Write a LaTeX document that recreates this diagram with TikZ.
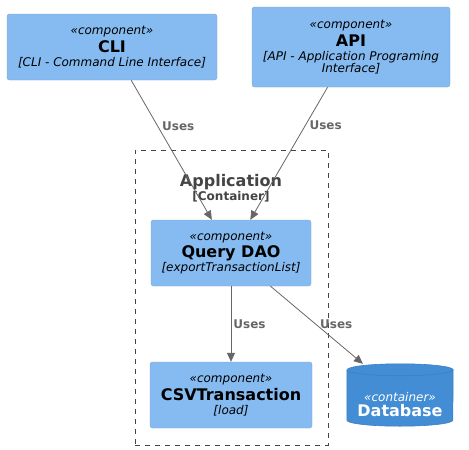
\documentclass[tikz,border=0pt]{standalone}
\usepackage{fontspec}
\setmainfont{DejaVu Sans}
\usetikzlibrary{arrows.meta,calc}
\definecolor{compfill}{HTML}{85BBF0}
\definecolor{compdraw}{HTML}{78A8D8}
\definecolor{dbfill}{HTML}{438DD5}
\definecolor{dbdraw}{HTML}{3C7FC0}
\definecolor{linegray}{HTML}{666666}
\definecolor{boundgray}{HTML}{444444}
\newcommand{\stereo}[1]{{\itshape «#1»}}
\newcommand{\ctitle}[1]{{\fontsize{16}{18}\selectfont\bfseries #1}}
\newcommand{\cdesc}[1]{{\itshape #1}}
\begin{document}
\begin{tikzpicture}[x=1pt, y=1pt,
    every node/.style={font=\fontsize{12}{14}\selectfont, align=center},
    comp/.style={rectangle, rounded corners=2.5pt, fill=compfill, draw=compdraw, inner sep=0pt, minimum height=66pt},
    boundary/.style={rectangle, draw=boundgray, dash pattern=on 5pt off 5pt, line width=0.6pt, inner sep=0pt},
    uses/.style={draw=linegray, line width=0.8pt, -{Triangle[length=9pt, width=8pt]}},
    useslbl/.style={font=\fontsize{12}{14}\selectfont\bfseries, text=linegray, anchor=west, inner sep=2pt}]
    \useasboundingbox (0,0) rectangle (469,-450);

    % Application boundary
    \node[boundary, minimum width=193pt, minimum height=295pt] (app) at (231.5,-297.5) {};
    \node[text=boundgray] (apptitle) at (231,-188) {\ctitle{Application}\\{\bfseries [Container]}};

    % Components
    \node[comp, minimum width=210pt] (cli) at (112,-47) {\stereo{component}\\[2pt]\ctitle{CLI}\\\cdesc{[CLI - Command Line Interface]}};
    \node[comp, minimum width=198pt, minimum height=80pt] (api) at (351,-47) {\stereo{component}\\[2pt]\ctitle{API}\\\cdesc{[API - Application Programing}\\[-2pt]\cdesc{Interface]}};
    \node[comp, minimum width=160pt] (dao) at (231,-253) {\stereo{component}\\[2pt]\ctitle{Query DAO}\\\cdesc{[exportTransactionList]}};
    \node[comp, minimum width=162pt] (csv) at (231,-395) {\stereo{component}\\[2pt]\ctitle{CSVTransaction}\\\cdesc{[load]}};

    % Database cylinder
    \node[minimum width=106pt, minimum height=62pt, inner sep=0pt] (db) at (400,-395) {};
    \path[fill=dbfill, draw=dbdraw, line width=0.6pt]
        ($(db.north west)+(0,-6)$) -- ($(db.south west)+(0,6)$)
        arc[start angle=180, end angle=360, x radius=53, y radius=6]
        -- ($(db.north east)+(0,-6)$)
        arc[start angle=0, end angle=180, x radius=53, y radius=6] -- cycle;
    \draw[dbdraw, line width=0.6pt] ($(db.north west)+(0,-6)$) arc[start angle=180, end angle=360, x radius=53, y radius=6];
    \node[text=white] (dblabel) at ($(db.center)+(0,-10)$) {\stereo{container}\\[1pt]\ctitle{Database}};

    % Relations
    \draw[uses] (cli) -- node[useslbl, pos=0.33, xshift=2pt] {Uses} (dao);
    \draw[uses] (api) -- node[useslbl, pos=0.29, xshift=2pt] {Uses} (dao);
    \draw[uses] (dao) -- node[useslbl, pos=0.5] {Uses} (csv);
    \draw[uses] (dao) -- node[useslbl, pos=0.49, xshift=2pt] {Uses} (db);
\end{tikzpicture}
\end{document}
